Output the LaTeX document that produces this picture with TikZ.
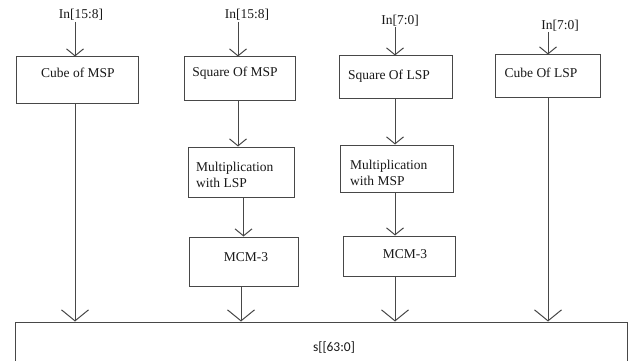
\documentclass[tikz,border=0pt]{standalone}
\usepackage{fontspec}
\setmainfont{Liberation Serif}
\newfontfamily\calib{Carlito}
\usetikzlibrary{arrows.meta}
\begin{document}
\begin{tikzpicture}[x=1pt,y=-1pt,
 ln/.style={draw=black!72,line width=1pt},
 sm/.style={ln,-{Straight Barb[length=7pt,width=17pt]}},
 bg/.style={ln,-{Straight Barb[length=11pt,width=27pt]}},
 blk/.style={ln,rectangle,inner sep=0pt,fill=white},
 txt/.style={font=\fontsize{13.5}{16}\selectfont,inner sep=0pt,text=black!90},
]
\useasboundingbox (0,0) rectangle (632,361);
% input labels
\node[txt] (l1) at (81,15) {In[15:8]};
\node[txt] (l2) at (247,15) {In[15:8]};
\node[txt] (l3) at (400,21) {In[7:0]};
\node[txt] (l4) at (560,26) {In[7:0]};
\coordinate (i1) at (75,22);
\coordinate (i2) at (238,22);
\coordinate (i3) at (395,27);
\coordinate (i4) at (548,32);
\coordinate (i5) at (241,0);
% first row
\node[blk,minimum width=122pt,minimum height=46pt] (b1) at (77,80) {};
\node[blk,minimum width=111pt,minimum height=43pt] (b2) at (239.5,78.5) {};
\node[blk,minimum width=113pt,minimum height=42pt] (b3) at (395.5,77) {};
\node[blk,minimum width=105pt,minimum height=42pt] (b4) at (547.5,76) {};
\node[txt] (t1) at (78,73) {Cube of MSP};
\node[txt] (t2) at (235,73) {Square Of MSP};
\node[txt] (t3) at (389,76) {Square Of LSP};
\node[txt] (t4) at (541,73) {Cube Of LSP};
% second row
\node[blk,minimum width=106pt,minimum height=50pt] (m1) at (241,172) {};
\node[blk,minimum width=113pt,minimum height=47pt] (m2) at (396.5,168.5) {};
\node[txt,anchor=west,align=left] (t5) at (196,175) {Multiplication\\with LSP};
\node[txt,anchor=west,align=left] (t6) at (350,173) {Multiplication\\with MSP};
% third row
\node[blk,minimum width=109pt,minimum height=49pt] (c1) at (243.5,261.5) {};
\node[blk,minimum width=112pt,minimum height=40pt] (c2) at (399,256) {};
\node[txt] (t7) at (246,257) {MCM-3};
\node[txt] (t8) at (405,254) {MCM-3};
% output
\node[blk,minimum width=612pt,minimum height=42pt] (S) at (321,343) {};
\node[txt,font=\calib\fontsize{13.5}{16}\selectfont] (t9) at (334,348) {s[[63:0]};
% input arrows
\draw[sm] (i1) -- (i1 |- b1.north);
\draw[sm] (i2) -- (i2 |- b2.north);
\draw[sm] (i3) -- (i3 |- b3.north);
\draw[sm] (i4) -- (i4 |- b4.north);
% middle arrows
\draw[sm] (b2.south -| i2) -- (m1.north -| i2);
\draw[sm] (m1.south -| c1) -- (c1.north);
\draw[sm] (b3.south -| i3) -- (m2.north -| i3);
\draw[sm] (m2.south -| i3) -- (c2.north -| i3);
% to output
\draw[bg] (b1.south -| i1) -- (S.north -| i1);
\draw[bg] (c1.south -| i5) -- (S.north -| i5);
\draw[bg] (c2.south -| i3) -- (S.north -| i3);
\draw[bg] (b4.south -| i4) -- (S.north -| i4);
\end{tikzpicture}
\end{document}
